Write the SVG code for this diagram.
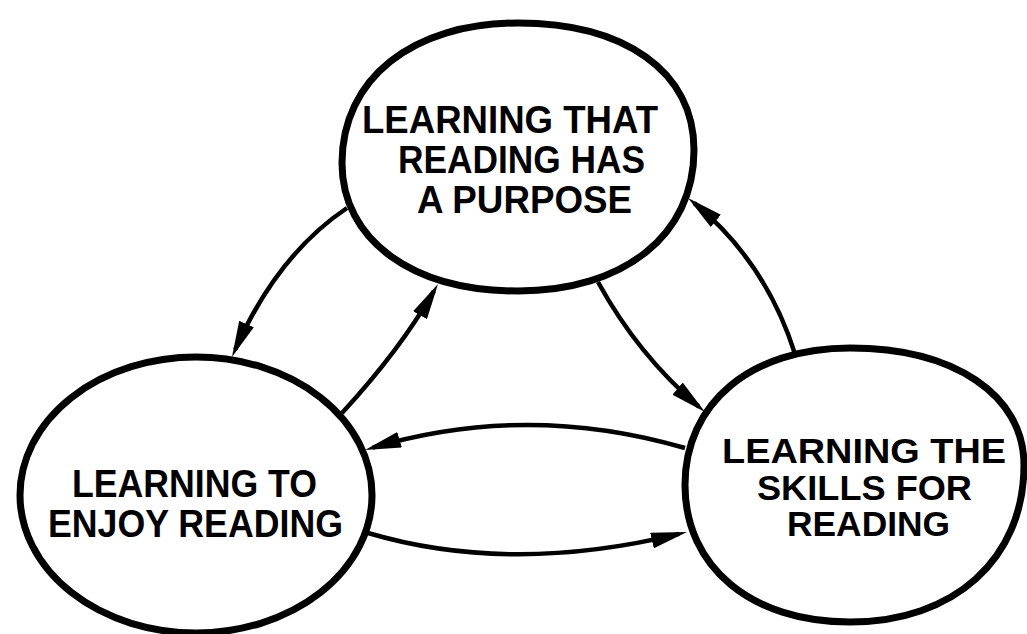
<svg xmlns="http://www.w3.org/2000/svg" width="1027" height="634" viewBox="0 0 1027 634">
<style>
.node{fill:#fff;stroke:#000;stroke-width:7}
.lbl{font-family:"Liberation Sans",Arial,sans-serif;font-weight:bold;font-size:38px;fill:#000}
.sm{font-size:35px}
.conn{fill:none;stroke:#000;stroke-width:4.5}
</style>
<defs>
<marker id="ah" viewBox="0 0 36 16" refX="28" refY="8" markerWidth="36" markerHeight="16" markerUnits="userSpaceOnUse" orient="auto">
<path d="M0,0 L36,8 L0,16 Z" fill="#000"/>
</marker>
</defs>
<rect width="1027" height="634" fill="#fff"/>
<g id="connectors">
<path class="conn" d="M347,208 Q277,255 235.2,349.7" marker-end="url(#ah)"/>
<path class="conn" d="M342,413 Q400,350 434,290.9" marker-end="url(#ah)"/>
<path class="conn" d="M598,282 Q638,355 698.9,406.8" marker-end="url(#ah)"/>
<path class="conn" d="M795,354 Q766,262 694.2,203.1" marker-end="url(#ah)"/>
<path class="conn" d="M685,448 Q527,402 372.7,447.7" marker-end="url(#ah)"/>
<path class="conn" d="M368,533 Q510,575 679.2,533.9" marker-end="url(#ah)"/>
</g>
<g id="node-purpose">
<path class="node" d="M342,163 C342,79 412,23 518,23 C624,23 694,71 694,150 C694,235 624,291 518,291 C412,291 342,240 342,163 Z"/>
<text class="lbl" x="362" y="133" textLength="296" lengthAdjust="spacingAndGlyphs">LEARNING THAT</text>
<text class="lbl" x="398" y="173" textLength="247" lengthAdjust="spacingAndGlyphs">READING HAS</text>
<text class="lbl" x="417" y="213" textLength="215" lengthAdjust="spacingAndGlyphs">A PURPOSE</text>
</g>
<g id="node-enjoy">
<ellipse class="node" cx="196" cy="495" rx="176" ry="138"/>
<text class="lbl" x="72" y="497" textLength="245" lengthAdjust="spacingAndGlyphs">LEARNING TO</text>
<text class="lbl" x="48" y="537" textLength="295" lengthAdjust="spacingAndGlyphs">ENJOY READING</text>
</g>
<g id="node-skills">
<path class="node" d="M685,485 C685,403 751,348 850,348 C954,348 1024,395 1024,465 C1024,559 954,622 850,622 C751,622 685,567 685,485 Z"/>
<text class="lbl sm" x="722" y="463" textLength="284" lengthAdjust="spacingAndGlyphs">LEARNING THE</text>
<text class="lbl sm" x="757" y="500" textLength="215" lengthAdjust="spacingAndGlyphs">SKILLS FOR</text>
<text class="lbl sm" x="787" y="536" textLength="163" lengthAdjust="spacingAndGlyphs">READING</text>
</g>
</svg>
